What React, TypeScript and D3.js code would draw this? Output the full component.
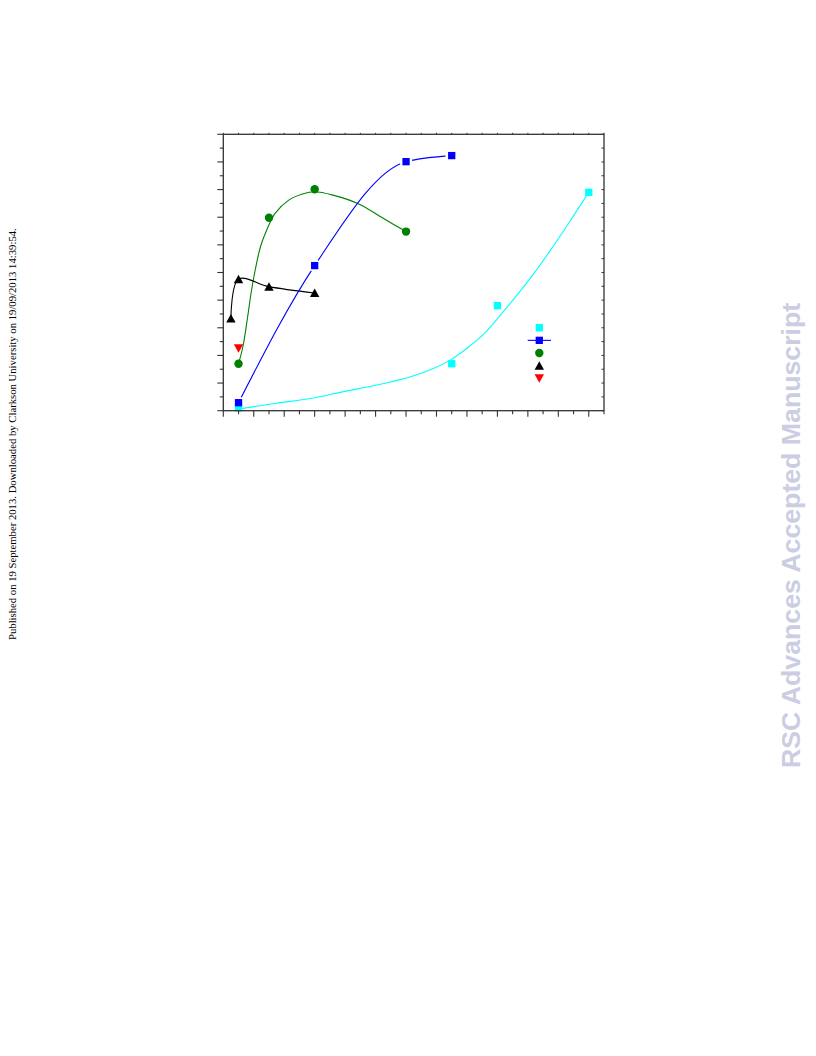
import React from "react";
import * as d3 from "d3";

// ---- data ----
const cyanX = [1, 15, 18, 24];
const cyanY = [1, 17, 38, 79];
const blueX = [1, 6, 12, 15];
const blueY = [2.9, 52.5, 90.1, 92.3];
const greenX = [1, 3, 6, 12];
const greenY = [17, 69.8, 80.1, 64.8];
const blackX = [0.5, 1, 3, 6];
const blackY = [33.4, 47.6, 44.9, 42.6];
const redX = [1];
const redY = [22.6];

// fitted curves as traced on the picture
const cyanFitX = [1, 2.4, 3.5, 6, 7.9, 10.1, 12.3, 13.8, 14.9, 16, 17.1, 18.2, 19.3, 20.4, 21.5, 22.6, 24];
const cyanFitY = [0.6, 1.8, 2.7, 4.7, 6.9, 9.3, 12.3, 15.3, 18.3, 22.6, 27.7, 34.6, 41.9, 49.7, 58.2, 67.2, 79];
const greenFitX = [1, 1.3, 1.6, 1.85, 2.1, 2.45, 2.9, 3.4, 4.3, 5.2, 6.0, 7.2, 8.9, 10.5, 12];
const greenFitY = [17, 23.5, 34, 43.5, 51, 59.5, 66, 71.4, 76.2, 78.4, 79.2, 78, 74.8, 69.6, 64.8];

const xMajor = d3.range(0, 26, 2);
const xMinor = d3.range(0, 26, 1);
const yMajor = d3.range(0, 101, 10);
const yMinor = d3.range(0, 101, 5);

const legendItems = ["cyan", "blue", "green", "black", "red"];

const sideNote = "Published on 19 September 2013. Downloaded by Clarkson University on 19/09/2013 14:39:54.";
const watermark = "RSC Advances Accepted Manuscript";

const W = 816;
const H = 1056;
const L = 223.3, R = 604, T = 134.3, B = 410.7;

const x = d3.scaleLinear().domain([0, 25]).range([L, R]);
const y = d3.scaleLinear().domain([0, 100]).range([B, T]);

const zip = (xs: number[], ys: number[]) => xs.map((v, i) => [v, ys[i]] as [number, number]);

const lineCR = d3.line<[number, number]>().x(d => x(d[0])).y(d => y(d[1])).curve(d3.curveCatmullRom.alpha(0.5));
const lineMono = d3.line<[number, number]>().x(d => x(d[0])).y(d => y(d[1])).curve(d3.curveMonotoneX);

function Square({ cx, cy, s, fill }: { cx: number; cy: number; s: number; fill: string }) {
  return <rect x={cx - s / 2} y={cy - s / 2} width={s} height={s} fill={fill} />;
}
function TriUp({ cx, cy, fill }: { cx: number; cy: number; fill: string }) {
  return <path d={`M${cx},${cy - 4.4}L${cx + 4.7},${cy + 4.1}L${cx - 4.7},${cy + 4.1}Z`} fill={fill} />;
}
function TriDown({ cx, cy, fill }: { cx: number; cy: number; fill: string }) {
  return <path d={`M${cx},${cy + 4.4}L${cx + 4.7},${cy - 4.1}L${cx - 4.7},${cy - 4.1}Z`} fill={fill} />;
}

function Marker({ kind, cx, cy }: { kind: string; cx: number; cy: number }) {
  if (kind === "cyan") return <Square cx={cx} cy={cy} s={7.3} fill="#00ffff" />;
  if (kind === "blue") return <Square cx={cx} cy={cy} s={7.3} fill="#0000ff" />;
  if (kind === "green") return <circle cx={cx} cy={cy} r={4.2} fill="#008000" />;
  if (kind === "black") return <TriUp cx={cx} cy={cy} fill="#000000" />;
  return <TriDown cx={cx} cy={cy} fill="#ff0000" />;
}

export default function App() {
  const axisColor = "#333";
  return (
    <svg width={W} height={H} style={{ position: "absolute", left: 0, top: 0, background: "#fff" }}>
      <defs>
        <mask id="blueGap">
          <rect x={0} y={0} width={W} height={H} fill="#fff" />
          {blueX.map((v, i) => (
            <circle key={i} cx={x(v)} cy={y(blueY[i])} r={6.3} fill="#000" />
          ))}
        </mask>
      </defs>

      {/* side texts */}
      <text
        transform={`translate(16,640) rotate(-90)`}
        fontFamily="'Liberation Serif', 'Times New Roman', serif"
        fontSize={10.7}
        fill="#000"
      >
        {sideNote}
      </text>
      <text
        transform={`translate(800,768) rotate(-90)`}
        fontFamily="'Liberation Sans', Arial, sans-serif"
        fontWeight="bold"
        fontSize={26.7}
        fill="#cbcde3"
      >
        {watermark}
      </text>

      {/* curves */}
      <path d={lineCR(zip(cyanFitX, cyanFitY)) || ""} fill="none" stroke="#00ffff" strokeWidth={1.1} />
      <path d={lineCR(zip(greenFitX, greenFitY)) || ""} fill="none" stroke="#008000" strokeWidth={1.1} />
      <path d={lineCR(zip(blackX, blackY)) || ""} fill="none" stroke="#000" strokeWidth={1.1} />
      <path d={lineMono(zip(blueX, blueY)) || ""} fill="none" stroke="#0000ff" strokeWidth={1.1} mask="url(#blueGap)" />

      {/* markers */}
      {cyanX.map((v, i) => <Marker key={"c" + i} kind="cyan" cx={x(v)} cy={y(cyanY[i])} />)}
      {blueX.map((v, i) => <Marker key={"b" + i} kind="blue" cx={x(v)} cy={y(blueY[i])} />)}
      {greenX.map((v, i) => <Marker key={"g" + i} kind="green" cx={x(v)} cy={y(greenY[i])} />)}
      {blackX.map((v, i) => <Marker key={"k" + i} kind="black" cx={x(v)} cy={y(blackY[i])} />)}
      {redX.map((v, i) => <Marker key={"r" + i} kind="red" cx={x(v)} cy={y(redY[i])} />)}

      {/* legend */}
      <g>
        {legendItems.map((k, i) => {
          const ly = 327.7 + i * 12.65;
          return (
            <g key={k}>
              {k === "blue" && <line x1={527.7} x2={551} y1={ly} y2={ly} stroke="#0000ff" strokeWidth={1.1} />}
              <Marker kind={k} cx={539.3} cy={ly} />
            </g>
          );
        })}
      </g>

      {/* frame */}
      <rect x={L} y={T} width={R - L} height={B - T} fill="none" stroke={axisColor} strokeWidth={1.3} />

      {/* bottom ticks */}
      {xMinor.map(v => {
        const major = xMajor.includes(v);
        return <line key={"xb" + v} x1={x(v)} x2={x(v)} y1={B} y2={B + (major ? 6 : 3.5)} stroke={axisColor} strokeWidth={1.1} />;
      })}
      {/* top ticks */}
      {xMinor.map(v => (
        <line key={"xt" + v} x1={x(v)} x2={x(v)} y1={T} y2={T - 1.5} stroke={axisColor} strokeWidth={1} />
      ))}
      {/* left ticks */}
      {yMinor.map(v => {
        const major = yMajor.includes(v);
        return <line key={"yl" + v} x1={L} x2={L - (major ? 6 : 3.5)} y1={y(v)} y2={y(v)} stroke={axisColor} strokeWidth={1.1} />;
      })}
      {/* right ticks */}
      {yMinor.map(v => (
        <line key={"yr" + v} x1={R} x2={R - 2.5} y1={y(v)} y2={y(v)} stroke={axisColor} strokeWidth={1} />
      ))}
    </svg>
  );
}
